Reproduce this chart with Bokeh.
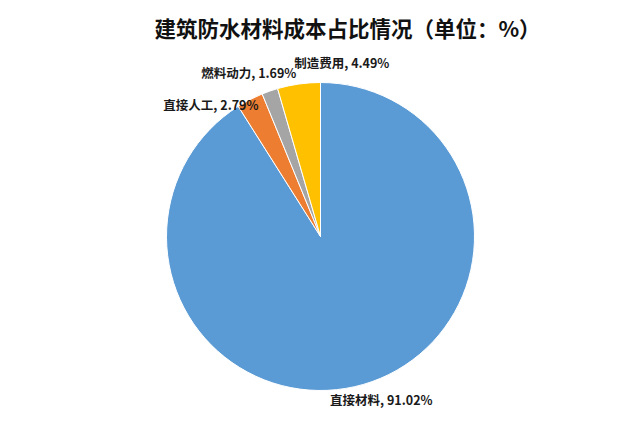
import math
from bokeh.plotting import figure
from bokeh.models import Range1d, ColumnDataSource
from bokeh.core.properties import value
from bokeh.embed import file_html
from bokeh.resources import INLINE

# ---- data ----
title_text = "建筑防水材料成本占比情况（单位：%）"
categories = ["直接材料", "直接人工", "燃料动力", "制造费用"]
shares = [91.02, 2.79, 1.69, 4.49]
colors = ["#5B9BD5", "#ED7D31", "#A5A5A5", "#FFC000"]

# ---- layout (pixels, figure coords; y up) ----
W, H = 624, 410
cx, cy, R = 320, 174, 154
label_offsets = [(18, -15), (-39, -5), (-21, 19), (43, 22)]  # style nudges

total = sum(shares)
starts, ends, lx, ly = [], [], [], []
cum = 0.0
for s, (dx, dy) in zip(shares, label_offsets):
    a0 = math.pi / 2 - 2 * math.pi * (cum + s) / total
    a1 = math.pi / 2 - 2 * math.pi * cum / total
    starts.append(a0)
    ends.append(a1)
    mid = (a0 + a1) / 2
    lx.append(cx + R * math.cos(mid) + dx)
    ly.append(cy + R * math.sin(mid) + dy)
    cum += s

labels = [f"{c}, {v:.2f}%" for c, v in zip(categories, shares)]

src = ColumnDataSource(dict(start=starts, end=ends, color=colors,
                            lx=lx, ly=ly, label=labels))

p = figure(width=W, height=H, x_range=Range1d(0, W), y_range=Range1d(0, H),
           output_backend="svg", toolbar_location=None,
           min_border=0, min_border_left=0, min_border_right=0,
           min_border_top=0, min_border_bottom=0)
p.axis.visible = False
p.grid.visible = False
p.outline_line_color = None
p.background_fill_color = "white"
p.border_fill_color = "white"

p.wedge(x=cx, y=cy, radius=R, start_angle="start", end_angle="end",
        fill_color="color", line_color="white", line_width=1, source=src)

p.text(x="lx", y="ly", text="label", source=src,
       text_font=value("Noto Sans CJK SC"), text_font_style="bold",
       text_font_size="12.5px", text_color="#1a1a1a",
       text_align="center", text_baseline="middle")

p.text(x=[W / 2 + 35], y=[H - 27], text=[title_text],
       text_font=value("Noto Sans CJK SC"), text_font_style="bold",
       text_font_size="21.5px", text_color="#111111",
       text_align="center", text_baseline="middle")

open("out.html", "w").write(file_html(p, INLINE))
